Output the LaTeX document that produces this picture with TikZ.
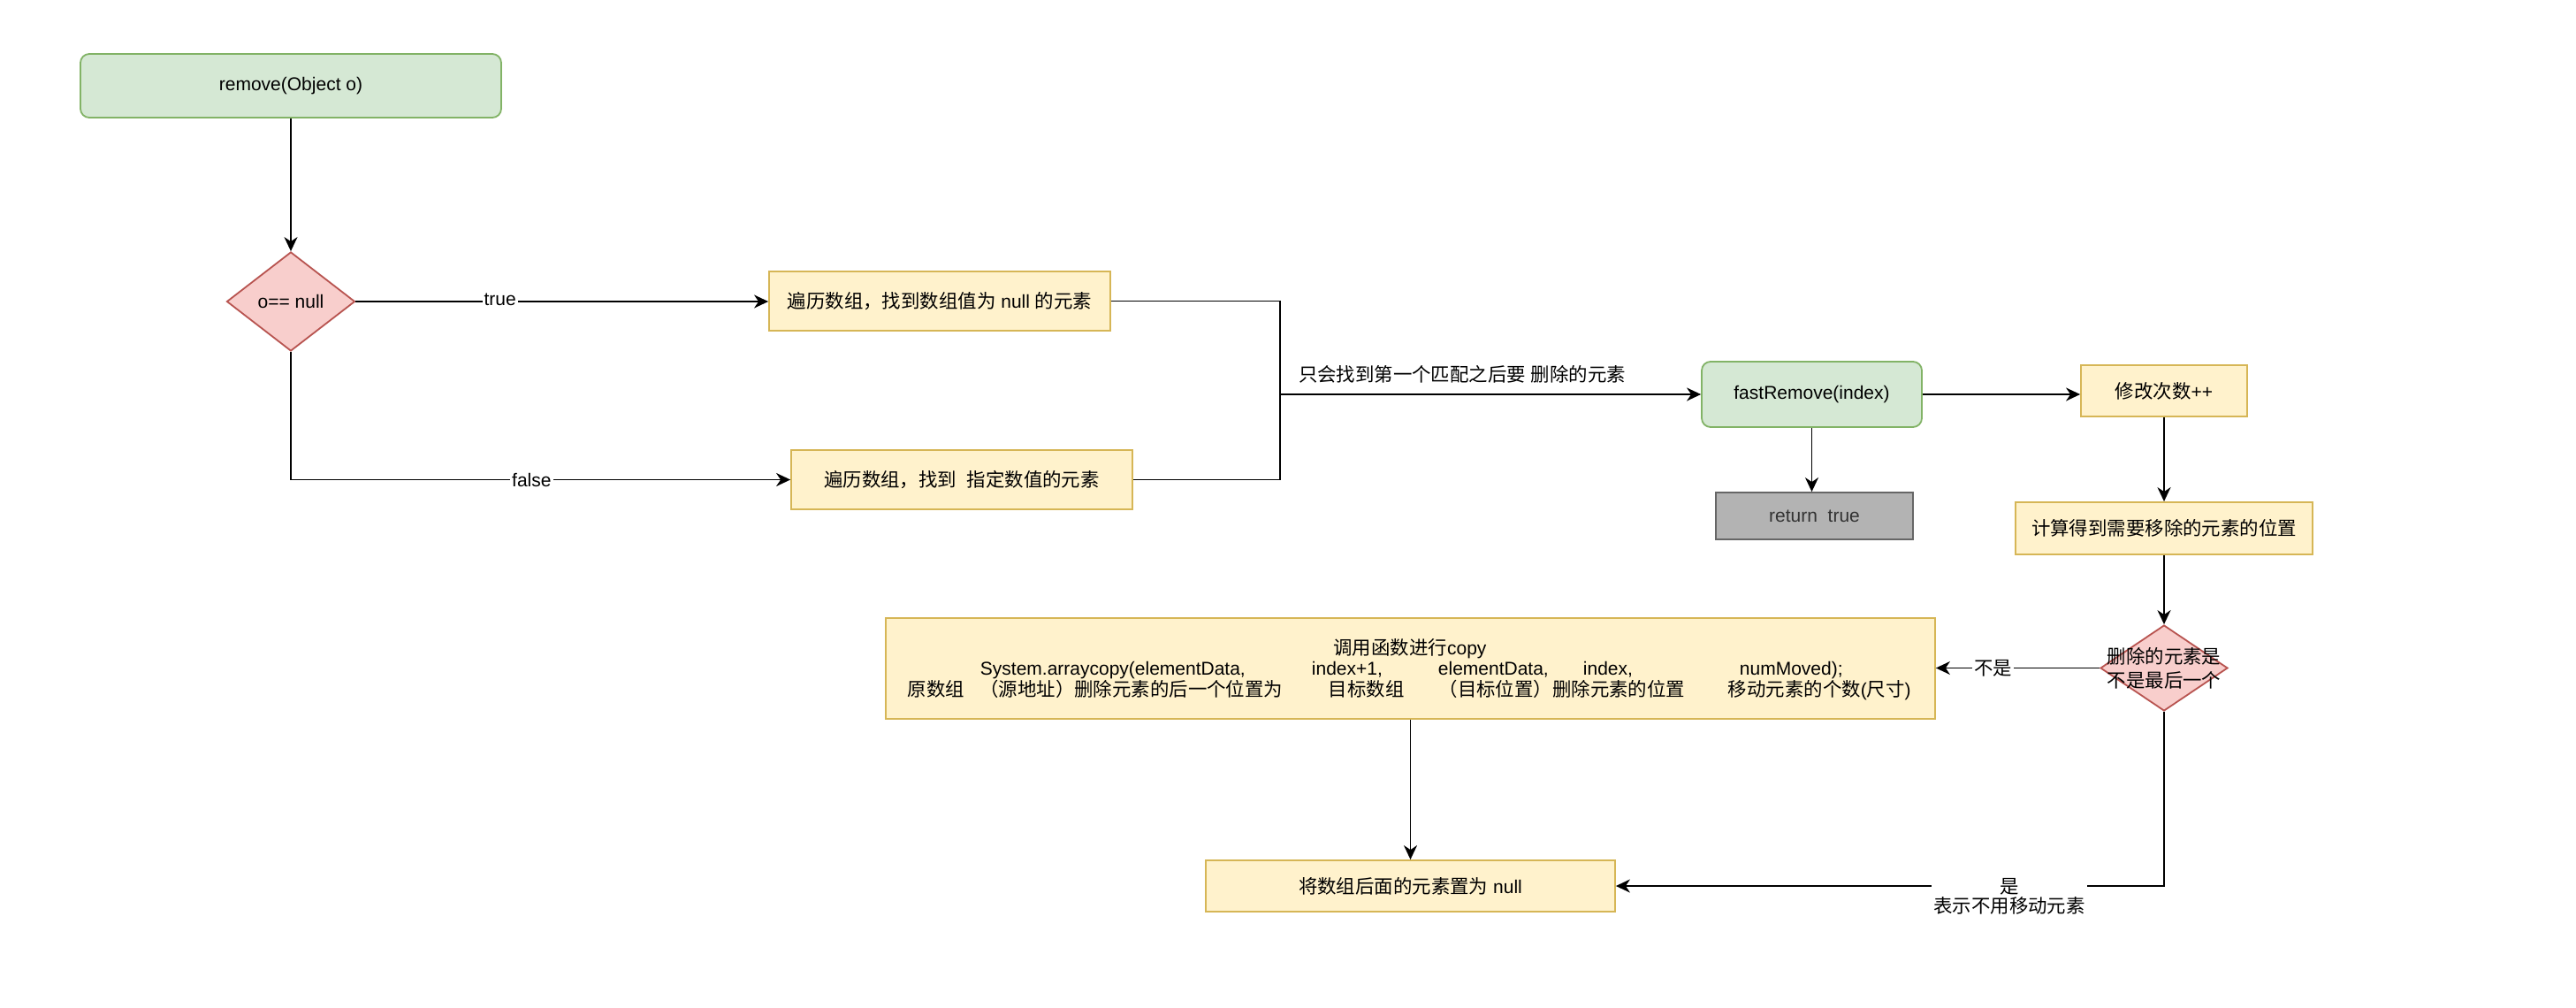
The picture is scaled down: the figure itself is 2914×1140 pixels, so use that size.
\documentclass[tikz,border=0pt]{standalone}
\usepackage{fontspec}
\setmainfont{Liberation Sans}
\newfontfamily\cjk{Noto Sans CJK SC}[Scale=1.02]
\usetikzlibrary{shapes.geometric,arrows.meta}
\definecolor{gfill}{HTML}{D5E8D4}
\definecolor{gline}{HTML}{82B366}
\definecolor{yfill}{HTML}{FFF2CC}
\definecolor{yline}{HTML}{D6B656}
\definecolor{rfill}{HTML}{F8CECC}
\definecolor{rline}{HTML}{B85450}
\definecolor{kfill}{HTML}{B3B3B3}
\definecolor{kline}{HTML}{666666}
\definecolor{ktext}{HTML}{333333}
\begin{document}
\begin{tikzpicture}[x=0.5pt,y=-0.5pt,
  font=\fontsize{10.5pt}{12.6pt}\selectfont,
  line width=0.9pt,
  ybox/.style={draw=yline, fill=yfill, rectangle, inner sep=0pt, align=center},
  gbox/.style={draw=gline, fill=gfill, rectangle, rounded corners=5pt, inner sep=0pt},
  kbox/.style={draw=kline, fill=kfill, rectangle, inner sep=0pt, text=ktext},
  dia/.style={draw=rline, fill=rfill, diamond, inner sep=0pt},
  arr/.style={-{Stealth[length=8pt,width=7.5pt,inset=2.5pt]}},
  lab/.style={fill=white, inner sep=1pt},
  txt/.style={inner sep=0pt},
]
\fill[white] (0,0) rectangle (2914,1140);
\useasboundingbox (0,0) rectangle (2914,1140);

% nodes
\node[gbox, minimum width=238pt, minimum height=36pt] (rem) at (329,97) {remove(Object o)};
\node[dia, minimum width=72.5pt, minimum height=56pt, label={center:{o== null}}] (d1) at (329,341) {};
\node[ybox, minimum width=193pt, minimum height=33.5pt] (bA) at (1063,340.5) {{\cjk 遍历数组，找到数组值为} null {\cjk 的元素}};
\node[ybox, minimum width=193pt, minimum height=33.5pt] (bB) at (1088,542.5) {{\cjk 遍历数组，找到}\ \ {\cjk 指定数值的元素}};
\node[gbox, minimum width=124.5pt, minimum height=37pt] (fr) at (2049.5,446) {fastRemove(index)};
\node[ybox, minimum width=94pt, minimum height=29pt] (m) at (2448,442) {{\cjk 修改次数}++};
\node[kbox, minimum width=111.5pt, minimum height=26.5pt] (rt) at (2052.5,583.5) {return\ \ true};
\node[ybox, minimum width=168pt, minimum height=29.5pt] (calc) at (2448,597.5) {{\cjk 计算得到需要移除的元素的位置}};
\node[dia, minimum width=72pt, minimum height=48.5pt,
  label={[align=center, font=\cjk\fontsize{10.5pt}{13.3pt}\selectfont]center:删除的元素是\\不是最后一个}] (d2) at (2448,755.5) {};
\node[ybox, minimum width=593.5pt, minimum height=57pt] (big) at (1595.5,756) {};
\node[ybox, minimum width=231.5pt, minimum height=29pt] (nl) at (1595.5,1002) {{\cjk 将数组后面的元素置为} null};

% text of the big box
\node[txt, anchor=base] (l1) at (1595,740) {{\cjk 调用函数进行}copy};
\node[txt, anchor=base west] (l2a) at (1108,763) {System.arraycopy(elementData,};
\node[txt, anchor=base west] (l2b) at (1483,763) {index+1,};
\node[txt, anchor=base west] (l2c) at (1626,763) {elementData,};
\node[txt, anchor=base west] (l2d) at (1790,763) {index,};
\node[txt, anchor=base west] (l2e) at (1967,763) {numMoved);};
\node[txt, anchor=base west] (l3a) at (1026,787) {\cjk 原数组};
\node[txt, anchor=base east] (l3b) at (1452,787) {\cjk （源地址）删除元素的后一个位置为};
\node[txt, anchor=base west] (l3c) at (1502,787) {\cjk 目标数组};
\node[txt, anchor=base east] (l3d) at (1907,787) {\cjk （目标位置）删除元素的位置};
\node[txt, anchor=base west] (l3e) at (1954,787) {{\cjk 移动元素的个数}({\cjk 尺寸})};

% connectors
\coordinate (j) at (1448,446);
\draw[arr] (rem) -- (d1);
\draw[arr] (d1.east) -- node[lab, pos=0.35, yshift=1pt]{true} (d1.east -| bA.west);
\draw[arr] (d1.south) |- node[lab, pos=0.741]{false} (bB.west);
\draw (bA.east) -| (j);
\draw (bB.east) -| (j);
\draw[arr] (j) -- (j -| fr.west);
\node[txt] (note) at (1654,423) {{\cjk 只会找到第一个匹配之后要} {\cjk 删除的元素}};
\draw[arr] (fr.east) -- (fr.east -| m.west);
\draw[arr] (fr.south) -- (fr.south |- rt.north);
\draw[arr] (m) -- (calc);
\draw[arr] (calc) -- (d2);
\draw[arr] (d2.west) -- node[lab, pos=0.65, font=\cjk\fontsize{10.5pt}{12.6pt}\selectfont]{不是} (d2.west -| big.east);
\draw[arr] (d2.south) |- node[lab, pos=0.641, yshift=-6pt, align=center, font=\cjk\fontsize{10.5pt}{11pt}\selectfont]{是\\表示不用移动元素} (nl.east);
\draw[arr] (big) -- (nl);
\end{tikzpicture}
\end{document}
